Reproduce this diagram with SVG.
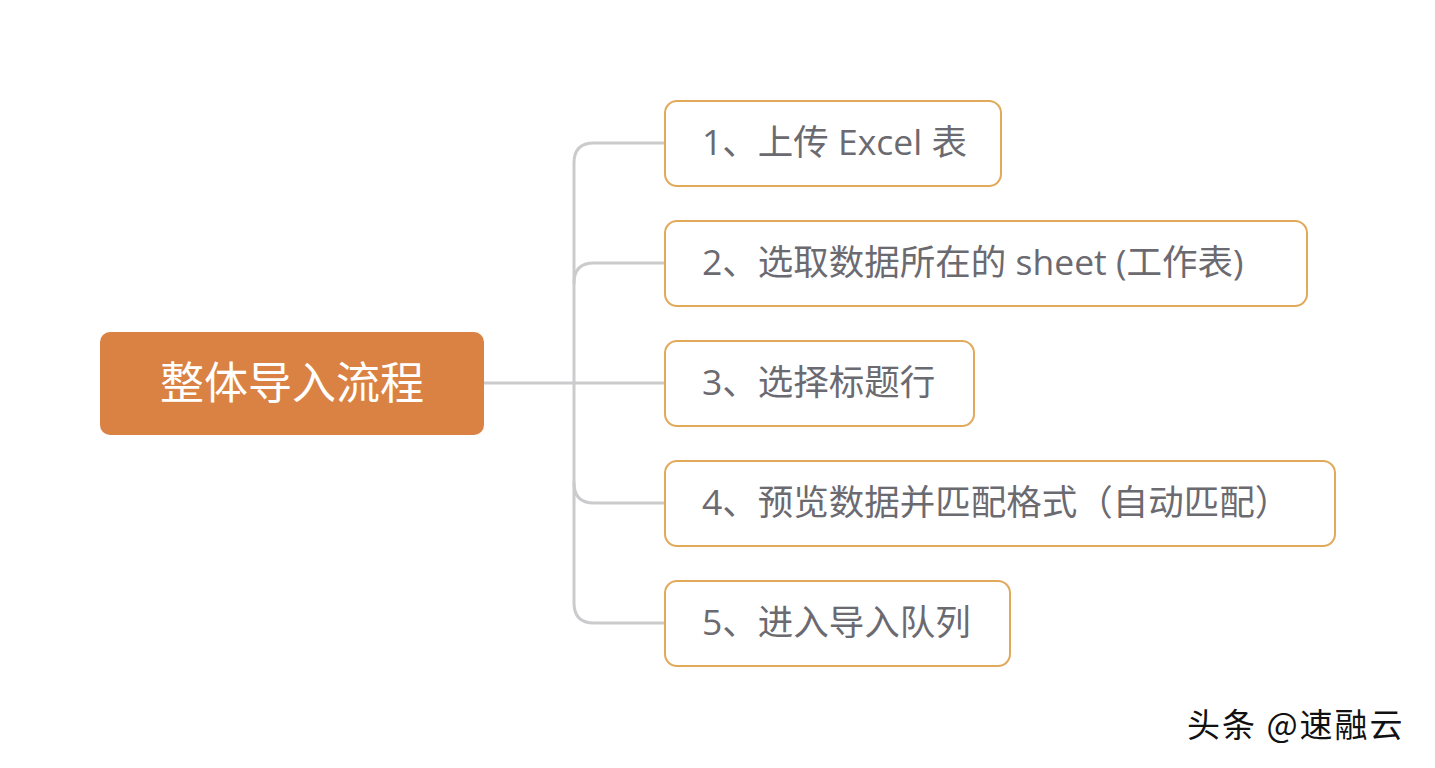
<svg xmlns="http://www.w3.org/2000/svg" width="1435" height="768" viewBox="0 0 1435 768">
<style>
.bg{fill:#ffffff}
.root{fill:#DA8244}
.rootText{fill:#ffffff;font-family:"Noto Sans CJK SC","Noto Sans",sans-serif;font-size:44px;dominant-baseline:central}
.child{fill:#ffffff;stroke:#E1A95A;stroke-width:2}
.childText{fill:#6B6A70;font-family:"Open Sans","Noto Sans CJK SC",sans-serif;font-size:35.5px;dominant-baseline:central}
.conn{fill:none;stroke:#CBCBCD;stroke-width:3;stroke-linecap:round}
.wm{fill:#111111;font-family:"Noto Sans CJK SC",sans-serif;font-size:33px;letter-spacing:2px;dominant-baseline:central}
</style>
<rect class="bg" x="0" y="0" width="1435" height="768"/>
<g id="connectors">
<path class="conn" d="M484,383 H665"/>
<path class="conn" d="M665,143 H594 Q574,143 574,163 V603 Q574,623 594,623 H665"/>
<path class="conn" d="M665,263 H594 Q574,263 574,283"/>
<path class="conn" d="M665,503 H594 Q574,503 574,483"/>
</g>
<g id="root">
<rect class="root" x="100" y="332" width="384" height="103" rx="10"/>
<text class="rootText" x="292" y="380" text-anchor="middle">整体导入流程</text>
</g>
<g id="n1">
<rect class="child" x="665" y="101" width="336" height="85" rx="12"/>
<text class="childText" x="702" y="141">1、上传 Excel 表</text>
</g>
<g id="n2">
<rect class="child" x="665" y="221" width="642" height="85" rx="12"/>
<text class="childText" x="702" y="261">2、选取数据所在的 sheet (工作表)</text>
</g>
<g id="n3">
<rect class="child" x="665" y="341" width="309" height="85" rx="12"/>
<text class="childText" x="702" y="381">3、选择标题行</text>
</g>
<g id="n4">
<rect class="child" x="665" y="461" width="670" height="85" rx="12"/>
<text class="childText" x="702" y="501">4、预览数据并匹配格式（自动匹配）</text>
</g>
<g id="n5">
<rect class="child" x="665" y="581" width="345" height="85" rx="12"/>
<text class="childText" x="702" y="621">5、进入导入队列</text>
</g>
<text class="wm" x="1187" y="723">头条 @速融云</text>
</svg>
